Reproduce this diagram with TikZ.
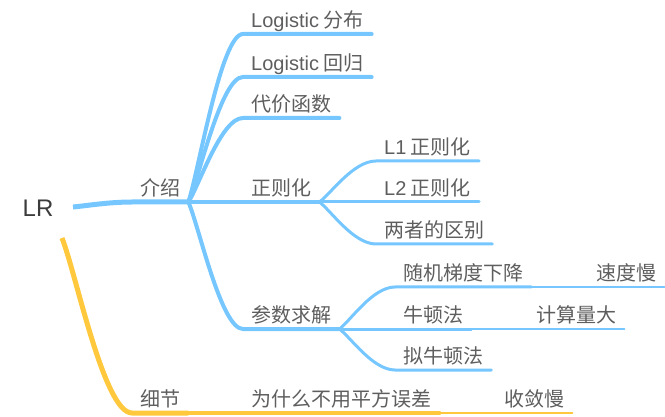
\documentclass[tikz,border=0pt]{standalone}
\usepackage{fontspec}
\setmainfont{Liberation Sans}
\newfontfamily\cjk{Noto Sans CJK SC}
\newfontfamily\latin{Liberation Sans}
\usepackage{tikz}
\usetikzlibrary{calc}
\definecolor{mapblue}{HTML}{76C7FF}
\definecolor{mapyellow}{HTML}{FFC83D}
\definecolor{maptext}{HTML}{5E5E5E}
\definecolor{roottext}{HTML}{3C3C3C}
\tikzset{
  topic/.style={inner xsep=8pt, inner ysep=6.5pt, text depth=0pt, anchor=south west,
    text=maptext, font=\fontsize{20}{24}\selectfont\cjk},
  rootlbl/.style={inner sep=0pt, text=roottext, font=\fontsize{24}{28}\selectfont\latin},
  branch/.style={to path={let \p1=(\tikztostart), \p2=(\tikztotarget) in
    .. controls ({\x1+0.2*(\x2-\x1)},{\y1+0.2*(\y2-\y1)}) and ({\x2-0.4*(\x2-\x1)},\y2) .. (\tikztotarget)}},
  lvla/.style={line width=5pt},
  lvlb/.style={line width=4pt, line cap=round},
  lvlc/.style={line width=3pt, line cap=round},
  lvld/.style={line width=2pt, line cap=round},
}

\begin{document}
\begin{tikzpicture}[x=1pt, y=-1pt]
\useasboundingbox (0,0) rectangle (665,417);
\node[rootlbl] (lr) at (38,208.5) {LR};
\coordinate (lrB) at (73,207);
\coordinate (lrY) at (62,238);
% first level
\node[topic] (intro) at (132,202) {介绍};
\node[topic] (detail) at (132,413) {细节};
% second level
\node[topic] (logdist) at (243,34) {{\latin Logistic} 分布};
\node[topic] (logreg) at (243,77) {{\latin Logistic} 回归};
\node[topic] (cost) at (243,118) {代价函数};
\node[topic] (regul) at (243,202) {正则化};
\node[topic] (solve) at (243,329) {参数求解};
\node[topic] (whynot) at (243,413) {为什么不用平方误差};
% third level
\node[topic] (l1) at (376,161) {{\latin L1} 正则化};
\node[topic] (l2) at (376,202) {{\latin L2} 正则化};
\node[topic] (diff) at (376,244) {两者的区别};
\node[topic] (sgd) at (395,287) {随机梯度下降};
\node[topic] (newton) at (395,329) {牛顿法};
\node[topic] (quasi) at (395,370) {拟牛顿法};
% leaves
\node[topic] (slow) at (588,287) {速度慢};
\node[topic] (heavy) at (528,329) {计算量大};
\node[topic] (slowconv) at (496,413) {收敛慢};

\draw[lvla, mapblue] (lrB) to[branch] (intro.south west) -- (intro.south east);
\draw[lvla, mapyellow] (lrY) to[branch] (detail.south west) -- (detail.south east);
\foreach \c in {logdist, logreg, cost, regul, solve}
  \draw[lvlb, mapblue] (intro.south east) to[branch] (\c.south west) -- (\c.south east);
\draw[lvlb, mapyellow] (detail.south east) -- (whynot.south west) -- (whynot.south east);
\foreach \c in {l1, l2, diff}
  \draw[lvlc, mapblue] (regul.south east) to[branch] (\c.south west) -- (\c.south east);
\foreach \c in {sgd, newton, quasi}
  \draw[lvlc, mapblue] (solve.south east) to[branch] (\c.south west) -- (\c.south east);
\draw[lvld, mapblue] (sgd.south east) -- (slow.south west) -- (slow.south east);
\draw[lvld, mapblue] (newton.south east) -- (heavy.south west) -- (heavy.south east);
\draw[lvld, mapyellow] (whynot.south east) -- (slowconv.south west) -- (slowconv.south east);
\end{tikzpicture}
\end{document}
